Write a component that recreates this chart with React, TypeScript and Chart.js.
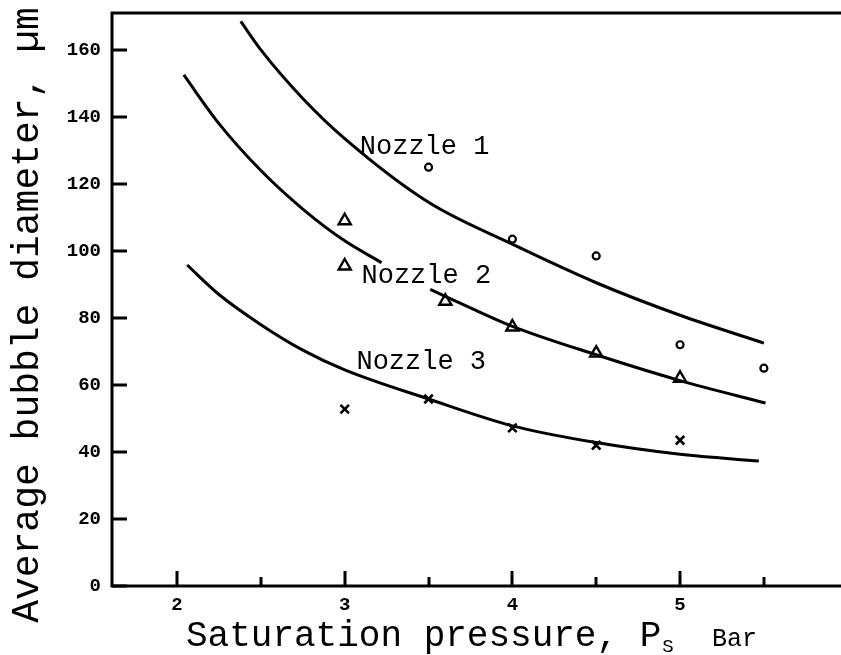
import { useEffect, useRef } from "react";
import { Chart, registerables } from "chart.js";

Chart.register(...registerables);

// Axis ticks
const X_TICKS = [2, 3, 4, 5];
const X_MINOR_TICKS = [2.5, 3.5, 4.5, 5.5];
const Y_TICKS = [0, 20, 40, 60, 80, 100, 120, 140, 160];

// Measured bubble diameters (µm) vs saturation pressure (bar)
const nozzle1X = [3.5, 4, 4.5, 5, 5.5];
const nozzle1Y = [125, 103.5, 98.5, 72, 65];

const nozzle2X = [3, 3, 3.6, 4, 4.5, 5];
const nozzle2Y = [109, 95.5, 85, 77.3, 69.5, 62];

const nozzle3X = [3, 3.5, 4, 4.5, 5];
const nozzle3Y = [52.8, 55.8, 47.2, 42, 43.5];

// Fitted curves
const fit1X = [2.38, 2.5, 2.75, 3, 3.5, 4, 4.5, 5, 5.5];
const fit1Y = [168.5, 160, 145.5, 133.5, 114.5, 102, 90.5, 80.8, 72.5];

const fit2aX = [2.04, 2.25, 2.5, 2.75, 3, 3.22];
const fit2aY = [152.5, 138, 124, 112.5, 103, 96.5];

const fit2bX = [3.51, 3.75, 4, 4.5, 5, 5.51];
const fit2bY = [88.5, 83, 77.5, 69, 61.3, 54.6];

const fit3X = [2.06, 2.25, 2.5, 2.75, 3, 3.5, 4, 4.5, 5, 5.47];
const fit3Y = [95.8, 87, 78, 70.4, 64.5, 55.8, 47.8, 42.8, 39.3, 37.3];

// Curve labels
const labelText = ["Nozzle 1", "Nozzle 2", "Nozzle 3"];
const labelX = [3.09, 3.1, 3.07];
const labelY = [131, 92.5, 66.9];

const pts = (xs: number[], ys: number[]) => xs.map((x, i) => ({ x, y: ys[i] }));

const MONO = '"Liberation Mono", "DejaVu Sans Mono", monospace';

const paperPlugin = {
  id: "paper",
  beforeDatasetsDraw(chart: any) {
    const { ctx, chartArea: a, scales } = chart;
    const xs = scales.x;
    const ys = scales.y;
    ctx.save();
    ctx.strokeStyle = "#000";
    ctx.fillStyle = "#000";
    ctx.lineWidth = 3;
    ctx.lineCap = "butt";

    // frame: top, left, bottom
    ctx.beginPath();
    ctx.moveTo(a.right, a.top);
    ctx.lineTo(a.left, a.top);
    ctx.lineTo(a.left, a.bottom);
    ctx.lineTo(a.right, a.bottom);
    ctx.stroke();

    // inward ticks
    ctx.beginPath();
    X_TICKS.forEach((v) => {
      const px = Math.round(xs.getPixelForValue(v));
      ctx.moveTo(px, a.bottom);
      ctx.lineTo(px, a.bottom - 15);
    });
    X_MINOR_TICKS.forEach((v) => {
      const px = Math.round(xs.getPixelForValue(v));
      ctx.moveTo(px, a.bottom);
      ctx.lineTo(px, a.bottom - 9);
    });
    Y_TICKS.forEach((v) => {
      const py = Math.round(ys.getPixelForValue(v));
      ctx.moveTo(a.left, py);
      ctx.lineTo(a.left + 15, py);
    });
    ctx.stroke();

    // tick labels
    ctx.font = `bold 19px ${MONO}`;
    ctx.textAlign = "center";
    ctx.textBaseline = "middle";
    X_TICKS.forEach((v) => {
      ctx.fillText(String(v), xs.getPixelForValue(v), a.bottom + 19);
    });
    ctx.textAlign = "right";
    Y_TICKS.forEach((v) => {
      ctx.fillText(String(v), a.left - 11, ys.getPixelForValue(v));
    });

    // curve labels
    ctx.font = `27px ${MONO}`;
    ctx.textAlign = "left";
    ctx.textBaseline = "middle";
    labelText.forEach((t, i) => {
      ctx.fillText(t, xs.getPixelForValue(labelX[i]), ys.getPixelForValue(labelY[i]));
    });

    // x-axis title
    ctx.textBaseline = "alphabetic";
    ctx.textAlign = "left";
    ctx.font = `36px ${MONO}`;
    const main = "Saturation pressure, P";
    const x0 = 186;
    const base = 646;
    ctx.fillText(main, x0, base);
    const w = ctx.measureText(main).width;
    ctx.font = `19px ${MONO}`;
    ctx.fillText("S", x0 + w + 1, base + 6);
    ctx.font = `25px ${MONO}`;
    ctx.fillText("Bar", 712, base);

    // y-axis title
    ctx.translate(38, 315);
    ctx.rotate(-Math.PI / 2);
    ctx.font = `38px ${MONO}`;
    ctx.textAlign = "center";
    ctx.fillText("Average bubble diameter, \u00b5m", 0, 0);

    ctx.restore();
  },
};

export default function App() {
  const ref = useRef<HTMLCanvasElement | null>(null);

  useEffect(() => {
    if (!ref.current) return;
    const line = (xs: number[], ys: number[]) => ({
      type: "line" as const,
      data: pts(xs, ys),
      showLine: true,
      borderColor: "#000",
      borderWidth: 3,
      pointRadius: 0,
      fill: false,
      cubicInterpolationMode: "monotone" as const,
    });
    const chart = new Chart(ref.current, {
      type: "scatter",
      data: {
        datasets: [
          line(fit1X, fit1Y),
          line(fit2aX, fit2aY),
          line(fit2bX, fit2bY),
          line(fit3X, fit3Y),
          {
            label: "Nozzle 1",
            data: pts(nozzle1X, nozzle1Y),
            pointStyle: "circle",
            pointRadius: 3.5,
            pointBorderWidth: 2.2,
            borderColor: "#000",
            backgroundColor: "#fff",
          },
          {
            label: "Nozzle 2",
            data: pts(nozzle2X, nozzle2Y),
            pointStyle: "triangle",
            pointRadius: 7,
            pointBorderWidth: 2.4,
            borderColor: "#000",
            backgroundColor: "rgba(255,255,255,0)",
          },
          {
            label: "Nozzle 3",
            data: pts(nozzle3X, nozzle3Y),
            pointStyle: "crossRot",
            pointRadius: 6,
            pointBorderWidth: 2.6,
            borderColor: "#000",
            backgroundColor: "#000",
          },
        ] as any,
      },
      options: {
        animation: false,
        responsive: false,
        devicePixelRatio: 1,
        layout: {
          autoPadding: false,
          padding: { left: 112, top: 13, right: 0, bottom: 69 },
        },
        plugins: { legend: { display: false }, tooltip: { enabled: false } },
        scales: {
          x: { type: "linear", min: 1.612, max: 5.96, display: false },
          y: { type: "linear", min: 0, max: 171, display: false },
        },
      },
      plugins: [paperPlugin],
    });
    return () => chart.destroy();
  }, []);

  return (
    <div style={{ position: "fixed", left: 0, top: 0, width: 841, height: 655, background: "#fff" }}>
      <canvas ref={ref} width={841} height={655} style={{ display: "block" }} />
    </div>
  );
}
